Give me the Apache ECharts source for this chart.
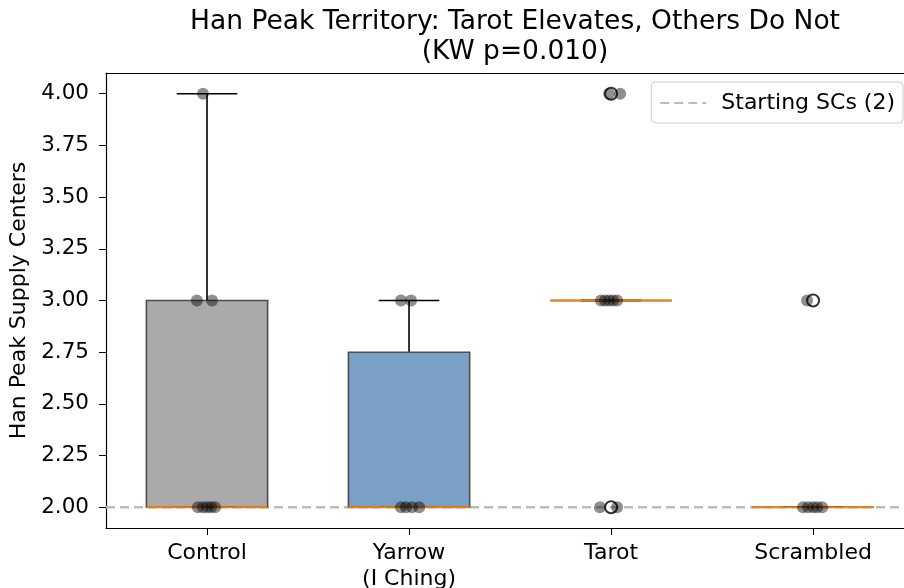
<!DOCTYPE html>
<html>
<head>
<meta charset="utf-8">
<script src="https://cdn.jsdelivr.net/npm/echarts@6/dist/echarts.min.js"></script>
<style>
  html, body { margin: 0; padding: 0; background: #fff; }
  #chart { width: 904px; height: 588px; }
</style>
</head>
<body>
<div id="chart"></div>
<script>
// categories and box stats
var categories = ['Control', 'Yarrow\n(I Ching)', 'Tarot', 'Scrambled'];
var lows    = [2, 2, 3, 2];
var q1s     = [2, 2, 3, 2];
var medians = [2, 2, 3, 2];
var q3s     = [3, 2.75, 3, 2];
var highs   = [4, 3, 3, 2];
var boxColors = ['#aaaaaa', '#7ba0c5', '#aaaaaa', '#aaaaaa'];

// individual runs (jittered)
var pointValues = [
  [4, 3, 3, 2, 2, 2, 2, 2],
  [3, 3, 2, 2, 2, 2],
  [4, 4, 3, 3, 3, 3, 3, 2, 2],
  [3, 2, 2, 2, 2, 2]
];
var pointJitter = [
  [-0.02, -0.05, 0.025, -0.045, -0.02, 0, 0.02, 0.04],
  [-0.04, 0.01, -0.04, -0.015, 0.015, 0.05],
  [-0.01, 0.045, -0.05, -0.03, -0.01, 0.01, 0.03, -0.055, 0.03],
  [-0.03, -0.05, -0.025, 0, 0.02, 0.045]
];

// boxplot fliers
var outlierCat = [3, 3, 4];
var outlierVal = [4, 2, 3];

var xTicks = [1, 2, 3, 4];
var yTicks = [2.0, 2.25, 2.5, 2.75, 3.0, 3.25, 3.5, 3.75, 4.0];
var startingSCs = 2;

var boxData = [];
for (var i = 0; i < categories.length; i++) {
  boxData.push([i + 1, lows[i], q1s[i], medians[i], q3s[i], highs[i]]);
}
var jitterData = [];
for (var i = 0; i < pointValues.length; i++) {
  for (var j = 0; j < pointValues[i].length; j++) {
    jitterData.push([i + 1 + pointJitter[i][j], pointValues[i][j]]);
  }
}
var outlierData = [];
for (var i = 0; i < outlierCat.length; i++) {
  outlierData.push([outlierCat[i], outlierVal[i]]);
}

var myChart = echarts.init(document.getElementById('chart'));
var font = 'DejaVu Sans';

function renderBox(params, api) {
  var x = api.value(0);
  var lo = api.value(1), q1 = api.value(2), med = api.value(3), q3 = api.value(4), hi = api.value(5);
  var w = api.size([0.6, 0])[0];
  var cap = w / 2;
  var cx = api.coord([x, med])[0];
  var yLo = api.coord([x, lo])[1], yQ1 = api.coord([x, q1])[1], yMed = api.coord([x, med])[1];
  var yQ3 = api.coord([x, q3])[1], yHi = api.coord([x, hi])[1];
  var blk = { stroke: '#000', lineWidth: 1.6 };
  var children = [
    { type: 'line', shape: { x1: cx, y1: yQ3, x2: cx, y2: yHi }, style: blk },
    { type: 'line', shape: { x1: cx, y1: yQ1, x2: cx, y2: yLo }, style: blk },
    { type: 'rect', shape: { x: cx - w / 2, y: yQ3, width: w, height: yQ1 - yQ3 },
      style: { fill: boxColors[params.dataIndex], stroke: '#4d4d4d', lineWidth: 1.6 } },
    { type: 'line', shape: { x1: cx - cap / 2, y1: yHi, x2: cx + cap / 2, y2: yHi }, style: blk },
    { type: 'line', shape: { x1: cx - cap / 2, y1: yLo, x2: cx + cap / 2, y2: yLo }, style: blk },
    { type: 'line', shape: { x1: cx - w / 2, y1: yMed, x2: cx + w / 2, y2: yMed },
      style: { stroke: '#f07f12', lineWidth: 2 } }
  ];
  return { type: 'group', children: children };
}

var option = {
  animation: false,
  title: {
    text: 'Han Peak Territory: Tarot Elevates, Others Do Not\n(KW p=0.010)',
    left: 510, top: 2, textAlign: 'center',
    textStyle: { fontFamily: font, fontSize: 26.5, fontWeight: 'normal', color: '#000', lineHeight: 30 }
  },
  legend: {
    data: ['Starting SCs (2)'],
    right: 1, top: 82,
    itemWidth: 46, itemHeight: 14, itemGap: 10,
    padding: [10, 8, 9, 8],
    backgroundColor: '#fff',
    borderColor: '#cccccc', borderWidth: 1, borderRadius: 4,
    itemStyle: { opacity: 0 },
    textStyle: { fontFamily: font, fontSize: 22, color: '#000', padding: [0, 0, 0, 10] }
  },
  grid: { left: 106, right: 0, top: 73, bottom: 60, outerBoundsMode: 'none', containLabel: false },
  xAxis: [
    {
      type: 'value', min: 0.5, max: 4.45,
      splitLine: { show: false },
      axisLine: { lineStyle: { color: '#000', width: 1.2 } },
      axisTick: { show: true, length: 7, lineStyle: { color: '#000' }, customValues: xTicks },
      axisLabel: {
        fontFamily: font, fontSize: 22, color: '#000', margin: 12, lineHeight: 26,
        customValues: xTicks,
        formatter: function (v) { return categories[Math.round(v) - 1]; }
      }
    },
    {
      type: 'value', min: 0.5, max: 4.45, position: 'top',
      splitLine: { show: false }, axisTick: { show: false }, axisLabel: { show: false },
      axisLine: { show: true, lineStyle: { color: '#000', width: 1.2 } }
    }
  ],
  yAxis: {
    type: 'value', min: 1.9, max: 4.1,
    name: 'Han Peak Supply Centers', nameLocation: 'middle', nameGap: 75, nameRotate: 90,
    nameTextStyle: { fontFamily: font, fontSize: 22, color: '#000' },
    splitLine: { show: false },
    axisLine: { show: true, lineStyle: { color: '#000', width: 1.2 } },
    axisTick: { show: true, length: 7, lineStyle: { color: '#000' }, customValues: yTicks },
    axisLabel: {
      fontFamily: font, fontSize: 21.5, color: '#000', margin: 17, customValues: yTicks,
      formatter: function (v) { return v.toFixed(2); }
    }
  },
  series: [
    {
      name: 'Starting SCs (2)', type: 'line', symbol: 'none', z: 1,
      data: [[0.5, startingSCs], [4.45, startingSCs]],
      lineStyle: { color: '#bbbbbb', width: 2.5, type: [9, 5] },
      itemStyle: { color: '#bbbbbb' }
    },
    {
      type: 'custom', renderItem: renderBox, data: boxData, z: 2, clip: false,
      encode: { x: 0, y: [1, 2, 3, 4, 5] }
    },
    {
      type: 'scatter', data: jitterData, symbolSize: 12, z: 3,
      itemStyle: { color: 'rgba(0,0,0,0.55)' }
    },
    {
      type: 'scatter', data: outlierData, symbolSize: 12, z: 4,
      itemStyle: { color: 'rgba(0,0,0,0)', borderColor: '#000', borderWidth: 2 }
    }
  ]
};

if (option && typeof option === 'object') {
  myChart.setOption(option, true);
}
window.onresize = function () { myChart.resize(); };
</script>
</body>
</html>
